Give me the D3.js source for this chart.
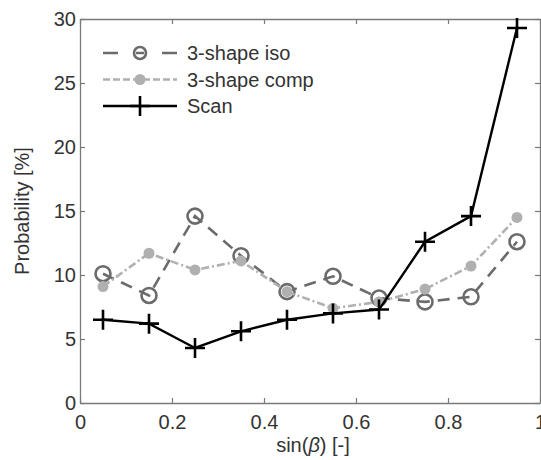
<!DOCTYPE html>
<html>
<head>
<meta charset="utf-8">
<script src="https://cdn.jsdelivr.net/npm/d3@7"></script>
<style>
  body { margin: 0; background: #fff; }
  text { font-family: 'Liberation Sans', Arial, sans-serif; fill: #333; }
</style>
</head>
<body>
<svg id="chart"></svg>
<script>
// data
const xValues = [0.05, 0.15, 0.25, 0.35, 0.45, 0.55, 0.65, 0.75, 0.85, 0.95];
const isoValues = [10.1, 8.4, 14.6, 11.5, 8.7, 9.9, 8.2, 7.9, 8.3, 12.6];
const compValues = [9.1, 11.7, 10.4, 11.1, 8.7, 7.4, 7.9, 8.9, 10.7, 14.5];
const scanValues = [6.5, 6.2, 4.3, 5.6, 6.5, 7.0, 7.3, 12.6, 14.6, 29.3];
const xTicks = [0, 0.2, 0.4, 0.6, 0.8, 1];
const yTicks = [0, 5, 10, 15, 20, 25, 30];
const seriesNames = ['3-shape iso', '3-shape comp', 'Scan'];

const WIDTH = 541;
const HEIGHT = 460;
const MARGINS = { top: 19, right: 1, bottom: 57, left: 80 };
const CHART_WIDTH = WIDTH - MARGINS.left - MARGINS.right;
const CHART_HEIGHT = HEIGHT - MARGINS.top - MARGINS.bottom;
const AXIS_COLOR = '#7a7a7a';
const FONT = '20px';

const svg = d3.select('#chart').attr('width', WIDTH).attr('height', HEIGHT);
const chart = svg
  .append('g')
  .attr('transform', `translate(${MARGINS.left},${MARGINS.top})`);

const x = d3.scaleLinear().domain([0, 1]).range([0, CHART_WIDTH]);
const y = d3.scaleLinear().domain([0, 30]).range([CHART_HEIGHT, 0]);

// box + inward ticks on all sides
const axisStyle = (g) => {
  g.select('.domain').attr('stroke', AXIS_COLOR).attr('stroke-width', 1.3);
  g.selectAll('.tick line').attr('stroke', AXIS_COLOR).attr('stroke-width', 1.2);
  g.selectAll('.tick text').style('font-size', FONT).attr('fill', '#333');
};

chart
  .append('g')
  .attr('transform', `translate(0,${CHART_HEIGHT})`)
  .call(d3.axisBottom(x).tickValues(xTicks).tickSize(-5).tickSizeOuter(0).tickPadding(12).tickFormat(d3.format('')))
  .call(axisStyle);
chart
  .append('g')
  .call(d3.axisTop(x).tickValues(xTicks).tickSize(-5).tickSizeOuter(0).tickFormat(''))
  .call(axisStyle);
chart
  .append('g')
  .call(d3.axisLeft(y).tickValues(yTicks).tickSize(-5).tickSizeOuter(0).tickPadding(4))
  .call(axisStyle);
chart
  .append('g')
  .attr('transform', `translate(${CHART_WIDTH},0)`)
  .call(d3.axisRight(y).tickValues(yTicks).tickSize(-5).tickSizeOuter(0).tickFormat(''))
  .call(axisStyle);

// axis labels
svg
  .append('text')
  .attr('transform', `translate(29,${MARGINS.top + CHART_HEIGHT / 2}) rotate(-90)`)
  .attr('text-anchor', 'middle')
  .style('font-size', FONT)
  .text('Probability [%]');

const xLabel = svg
  .append('text')
  .attr('x', MARGINS.left + CHART_WIDTH / 2 + 3)
  .attr('y', 452)
  .attr('text-anchor', 'middle')
  .style('font-size', FONT);
xLabel.append('tspan').text('sin(');
xLabel.append('tspan').style('font-style', 'italic').text('β');
xLabel.append('tspan').text(') [-]');

const line = d3
  .line()
  .x((d) => x(d[0]))
  .y((d) => y(d[1]));

const zip = (vals) => xValues.map((v, i) => [v, vals[i]]);

const series = [
  { name: seriesNames[0], values: isoValues, color: '#6b6b6b', width: 2.6, dash: '12,8', marker: 'open' },
  { name: seriesNames[1], values: compValues, color: '#b0b0b0', width: 2.6, dash: '8,3,2,3', marker: 'dot' },
  { name: seriesNames[2], values: scanValues, color: '#000', width: 2.4, dash: null, marker: 'plus' },
];

const drawMarker = (g, cx, cy, s, scale) => {
  if (s.marker === 'open') {
    g.append('circle')
      .attr('cx', cx).attr('cy', cy).attr('r', 7.5 * scale)
      .attr('fill', 'none').attr('stroke', s.color).attr('stroke-width', 2.6);
  } else if (s.marker === 'dot') {
    g.append('circle')
      .attr('cx', cx).attr('cy', cy).attr('r', 5.5 * scale)
      .attr('fill', s.color).attr('stroke', 'none');
  } else {
    const h = 10 * scale;
    g.append('path')
      .attr('d', `M${cx - h},${cy}H${cx + h}M${cx},${cy - h}V${cy + h}`)
      .attr('stroke', s.color).attr('stroke-width', 2.6).attr('fill', 'none');
  }
};

series.forEach((s) => {
  const g = chart.append('g');
  g.append('path')
    .datum(zip(s.values))
    .attr('d', line)
    .attr('fill', 'none')
    .attr('stroke', s.color)
    .attr('stroke-width', s.width)
    .attr('stroke-dasharray', s.dash);
  zip(s.values).forEach((d) => drawMarker(g, x(d[0]), y(d[1]), s, 1));
});

// legend
const legend = svg.append('g').attr('transform', 'translate(103,53)');
const legendDash = ['15,18,8,18,15', '7,3', null];
series.forEach((s, i) => {
  const row = legend.append('g').attr('transform', `translate(0,${i * 26.5})`);
  row.append('line')
    .attr('x1', 0).attr('x2', 74).attr('y1', 0).attr('y2', 0)
    .attr('stroke', s.color).attr('stroke-width', s.width)
    .attr('stroke-dasharray', legendDash[i]);
  drawMarker(row, 37, 0, s, s.marker === 'open' ? 0.8 : 1);
  row.append('text')
    .attr('x', 84).attr('y', 0).attr('dy', '0.35em')
    .style('font-size', FONT)
    .text(s.name);
});
</script>
</body>
</html>
